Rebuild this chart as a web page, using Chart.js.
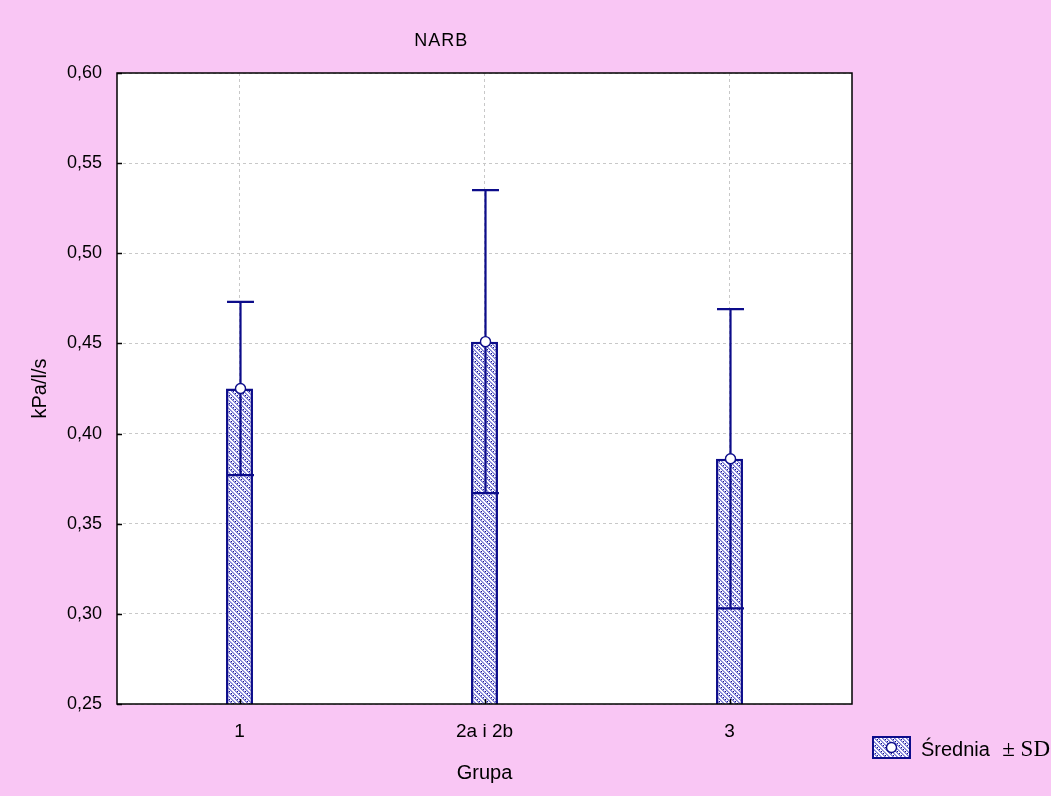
<!DOCTYPE html>
<html>
<head>
<meta charset="utf-8">
<script src="https://cdn.jsdelivr.net/npm/chart.js@4"></script>
<style>
  html, body { margin: 0; padding: 0; background: #F9C6F4; }
  #wrap { width: 1051px; height: 796px; }
</style>
</head>
<body>
<div id="wrap"><canvas id="c" width="1051" height="796"></canvas></div>
<script>
// Group labels, means and standard deviations (kPa/l/s)
const categories = ['1', '2a i 2b', '3'];
const means = [0.425, 0.451, 0.386];
const sds = [0.048, 0.084, 0.083];
const yTicks = [0.25, 0.30, 0.35, 0.40, 0.45, 0.50, 0.55, 0.60];

const NAVY = '#0c0c8a';
const PINK = '#F9C6F4';
const SANS = '"Liberation Sans", Arial, sans-serif';

// Dotted diagonal hatch fill for the bars
function makePattern() {
  const p = document.createElement('canvas');
  p.width = 8; p.height = 8;
  const g = p.getContext('2d');
  g.fillStyle = '#ffffff';
  g.fillRect(0, 0, 8, 8);
  for (let y = 0; y < 8; y++) for (let x = 0; x < 8; x++) {
    const d = ((x - y) % 4 + 4) % 4;
    if (d === 0 || d === 1) {
      g.fillStyle = (d === 0) ? '#7c7cd4' : '#a4a4e4';
      g.fillRect(x, y, 1, 1);
    }
  }
  g.fillStyle = '#101088';
  g.fillRect(3, 1, 1, 1);
  g.fillRect(7, 5, 1, 1);
  g.fillRect(1, 7, 1, 1);
  g.fillRect(5, 3, 1, 1);
  const ctx = document.createElement('canvas').getContext('2d');
  return ctx.createPattern(p, 'repeat');
}
const hatch = makePattern();

// Whiskers, mean markers, plot frame, title and legend
const decorations = {
  id: 'decorations',
  beforeDraw(chart) {
    const ctx = chart.ctx;
    ctx.save();
    ctx.fillStyle = PINK;
    ctx.fillRect(0, 0, chart.width, chart.height);
    const a = chart.chartArea;
    ctx.fillStyle = '#ffffff';
    ctx.fillRect(a.left, a.top, a.right - a.left, a.bottom - a.top);
    ctx.restore();
  },
  afterDatasetsDraw(chart) {
    const ctx = chart.ctx;
    const y = chart.scales.y;
    const x = chart.scales.x;
    const meta = chart.getDatasetMeta(0);
    ctx.save();
    meta.data.forEach((bar, i) => {
      const cx = Math.round(bar.x) + 0.5;
      const half = bar.width / 2;
      const yTop = y.getPixelForValue(means[i] + sds[i]);
      const yBot = y.getPixelForValue(means[i] - sds[i]);
      const yMean = y.getPixelForValue(means[i]);
      ctx.strokeStyle = NAVY;
      ctx.lineWidth = 2.2;
      ctx.beginPath();
      ctx.moveTo(cx, yTop);
      ctx.lineTo(cx, yBot);
      ctx.moveTo(cx - half, yTop);
      ctx.lineTo(cx + half, yTop);
      ctx.moveTo(cx - half, yBot);
      ctx.lineTo(cx + half, yBot);
      ctx.stroke();
      ctx.beginPath();
      ctx.arc(cx, yMean, 5, 0, Math.PI * 2);
      ctx.fillStyle = '#ffffff';
      ctx.fill();
      ctx.lineWidth = 1.4;
      ctx.stroke();
    });
    // plot frame with short inward ticks
    const a = chart.chartArea;
    ctx.strokeStyle = '#000000';
    ctx.lineWidth = 1.5;
    ctx.strokeRect(a.left, a.top, a.right - a.left, a.bottom - a.top);
    ctx.beginPath();
    categories.forEach((c, i) => {
      const px = Math.round(x.getPixelForValue(i)) + 0.5;
      ctx.moveTo(px, a.bottom);
      ctx.lineTo(px, a.bottom - 5);
    });
    yTicks.forEach(v => {
      const py = Math.round(y.getPixelForValue(v)) + 0.5;
      ctx.moveTo(a.left, py);
      ctx.lineTo(a.left + 5, py);
    });
    ctx.stroke();
    ctx.restore();
  },
  afterDraw(chart) {
    const ctx = chart.ctx;
    const a = chart.chartArea;
    ctx.save();
    // title
    ctx.fillStyle = '#000000';
    ctx.font = '18px ' + SANS;
    ctx.letterSpacing = '1px';
    ctx.textAlign = 'center';
    ctx.textBaseline = 'middle';
    ctx.fillText('NARB', a.left + (a.right - a.left) * 0.441, 41);
    ctx.letterSpacing = '0px';
    // legend
    const bx = 873, by = 737, bw = 37, bh = 21;
    ctx.fillStyle = hatch;
    ctx.fillRect(bx, by, bw, bh);
    ctx.strokeStyle = NAVY;
    ctx.lineWidth = 2;
    ctx.strokeRect(bx, by, bw, bh);
    ctx.beginPath();
    ctx.arc(bx + bw / 2, by + bh / 2, 5, 0, Math.PI * 2);
    ctx.fillStyle = '#ffffff';
    ctx.fill();
    ctx.lineWidth = 1.4;
    ctx.stroke();
    ctx.fillStyle = '#000000';
    ctx.textAlign = 'left';
    ctx.textBaseline = 'alphabetic';
    ctx.font = '20px ' + SANS;
    ctx.fillText('Średnia', 921, 756);
    ctx.font = '23px "Liberation Serif", "Times New Roman", serif';
    ctx.textAlign = 'right';
    ctx.fillText('± SD', 1050, 756);
    ctx.restore();
  }
};

new Chart(document.getElementById('c'), {
  type: 'bar',
  data: {
    labels: categories,
    datasets: [{
      label: 'Średnia ± SD',
      data: means,
      backgroundColor: hatch,
      borderColor: NAVY,
      borderWidth: 2.5,
      borderSkipped: 'bottom',
      barPercentage: 0.5,
      categoryPercentage: 0.22
    }]
  },
  options: {
    responsive: false,
    animation: false,
    layout: { padding: { left: 0, right: 199, top: 73, bottom: 0 } },
    plugins: {
      legend: { display: false },
      title: { display: false },
      tooltip: { enabled: false }
    },
    scales: {
      x: {
        offset: true,
        grid: { display: true, offset: false, color: '#c8c8c8', drawTicks: false, lineWidth: 1 },
        border: { display: false, dash: [3, 3] },
        ticks: { color: '#000', font: { family: SANS, size: 19 }, padding: 16 },
        title: { display: true, text: 'Grupa', color: '#000', font: { family: SANS, size: 20 }, padding: { top: 4, bottom: 11 } },
        afterFit(s) { s.height = 92; }
      },
      y: {
        min: 0.25, max: 0.60,
        afterBuildTicks(s) { s.ticks = yTicks.map(v => ({ value: v })); },
        grid: { color: '#c8c8c8', drawTicks: false },
        border: { display: false, dash: [3, 3] },
        ticks: {
          color: '#000',
          font: { family: SANS, size: 18 },
          padding: 15,
          callback: v => v.toFixed(2).replace('.', ',')
        },
        title: { display: true, text: 'kPa/l/s', color: '#000', font: { family: SANS, size: 20 }, padding: { top: 28, bottom: 0 } },
        afterFit(s) { s.width = 117; }
      }
    }
  },
  plugins: [decorations]
});
</script>
</body>
</html>
